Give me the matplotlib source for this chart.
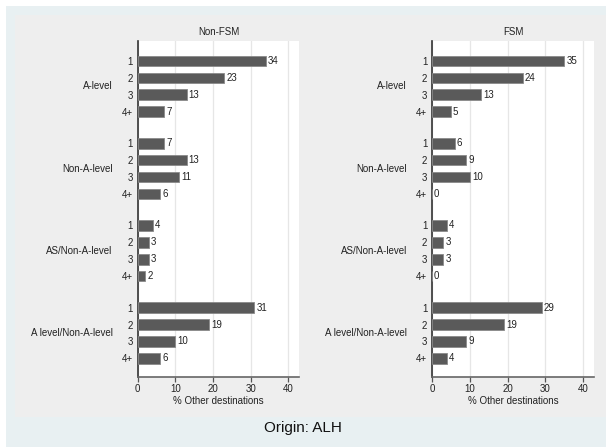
import matplotlib
matplotlib.use("Agg")
import matplotlib.pyplot as plt
from matplotlib.patches import Rectangle
from matplotlib.transforms import blended_transform_factory

plt.rcParams["font.family"] = ["Liberation Sans", "DejaVu Sans"]

groups = ["A-level", "Non-A-level", "AS/Non-A-level", "A level/Non-A-level"]
ranks = ["1", "2", "3", "4+"]
panels = ["Non-FSM", "FSM"]
non_fsm = [34, 23, 13, 7, 7, 13, 11, 6, 4, 3, 3, 2, 31, 19, 10, 6]
fsm = [35, 24, 13, 5, 6, 9, 10, 0, 4, 3, 3, 0, 29, 19, 9, 4]
xticks = [0, 10, 20, 30, 40]

W, H = 606, 447
fig = plt.figure(figsize=(W / 100, H / 100), dpi=100)
fig.patch.set_facecolor("white")

# background layers (Stata-like)
fig.patches.append(Rectangle((6 / W, 0), 1, 1 - 6 / H, transform=fig.transFigure,
                             facecolor="#e8f0f2", edgecolor="none", zorder=-3))
fig.patches.append(Rectangle((15 / W, 1 - 417 / H), 1, (417 - 15) / H,
                             transform=fig.transFigure,
                             facecolor="#eeeeee", edgecolor="none", zorder=-2))

gap = 0.87
pos = [g * (4 + gap) + j for g in range(len(groups)) for j in range(len(ranks))]
group_centers = [g * (4 + gap) + 1.5 for g in range(len(groups))]

top, bottom = 40.7, 376.7
lefts = [137.7, 432.0]
rights = [299.3, 594.0]

for left, right, title, vals in zip(lefts, rights, panels, [non_fsm, fsm]):
    ax = fig.add_axes([left / W, 1 - bottom / H, (right - left) / W, (bottom - top) / H])
    ax.set_facecolor("white")
    ax.barh(pos, vals, height=0.63, color="#5a5a5a", edgecolor="#8a8a8a",
            linewidth=0.6, zorder=3)
    for y, v in zip(pos, vals):
        ax.annotate(str(v), (v, y), xytext=(1.5, 0), textcoords="offset points",
                    va="center", ha="left", fontsize=7, color="#222222")
    ax.set_xlim(0, 42.9)
    ax.set_ylim(pos[-1] + 1.09, -1.2)
    ax.set_xticks(xticks)
    ax.set_xticklabels([str(t) for t in xticks], fontsize=7, color="#222222")
    ax.set_yticks(pos)
    ax.set_yticklabels(ranks * len(groups), fontsize=7, color="#222222")
    ax.tick_params(axis="y", length=0, pad=3.4)
    ax.tick_params(axis="x", length=3.5, width=0.9, color="#555555", pad=2)
    ax.grid(axis="x", color="#e6e6e6", linewidth=0.9, zorder=0)
    ax.set_axisbelow(True)
    for s in ["top", "right"]:
        ax.spines[s].set_visible(False)
    ax.spines["left"].set_color("#333333")
    ax.spines["left"].set_linewidth(1.2)
    ax.spines["bottom"].set_color("#666666")
    ax.spines["bottom"].set_linewidth(1.2)
    ax.set_xlabel("% Other destinations", fontsize=7, color="#222222", labelpad=1)
    ax.set_title(title, fontsize=7, color="#222222", pad=4)
    trans = blended_transform_factory(ax.transAxes, ax.transData)
    for name, yc in zip(groups, group_centers):
        ax.annotate(name, (0, yc), xycoords=trans, xytext=(-18, 0),
                    textcoords="offset points", ha="right", va="center",
                    fontsize=7, color="#222222")

fig.text(303 / W, 1 - 428 / H, "Origin: ALH", ha="center", va="center",
         fontsize=11, color="#111111")

fig.savefig("out.png", dpi=100)
